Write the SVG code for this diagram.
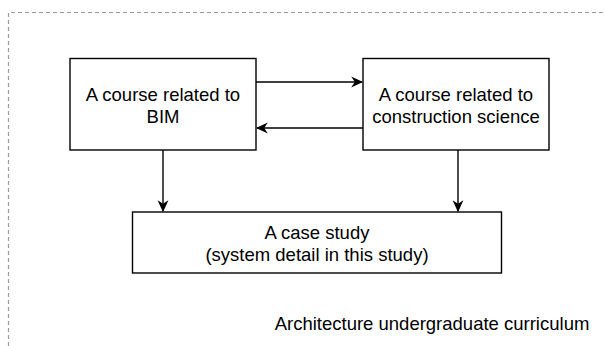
<svg xmlns="http://www.w3.org/2000/svg" width="604" height="346" viewBox="0 0 604 346">
<defs>
<style>
.box{fill:#fff;stroke:#000;stroke-width:1.4}
.lbl{font-family:"Liberation Sans",Arial,sans-serif;font-size:18.5px;fill:#000;text-anchor:middle}
.edge{fill:none;stroke:#000;stroke-width:1.4}
.frame{fill:none;stroke:#999;stroke-width:1.2;stroke-dasharray:4 3}
</style>
<marker id="arr" viewBox="0 0 10 10" refX="9" refY="5" markerWidth="12" markerHeight="12" markerUnits="userSpaceOnUse" orient="auto">
<path d="M0,0.5 L10,5 L0,9.5 L3,5 Z" fill="#000"/>
</marker>
</defs>
<rect fill="#fff" x="0" y="0" width="604" height="346"/>
<g id="frame">
<path class="frame" d="M8.5,346 L8.5,12.5 L604,12.5"/>
<text class="lbl" x="432" y="329.5">Architecture undergraduate curriculum</text>
</g>
<g id="connectors">
<path class="edge" d="M256,82 L362,82" marker-end="url(#arr)"/>
<path class="edge" d="M363,128 L257,128" marker-end="url(#arr)"/>
<path class="edge" d="M163,150 L163,211" marker-end="url(#arr)"/>
<path class="edge" d="M458,150 L458,211" marker-end="url(#arr)"/>
</g>
<g id="bim">
<rect class="box" x="70" y="58.5" width="186" height="91.5"/>
<text class="lbl" x="163" y="100.5">A course related to</text>
<text class="lbl" x="163" y="122.5">BIM</text>
</g>
<g id="construction">
<rect class="box" x="363" y="58.5" width="186" height="91.5"/>
<text class="lbl" x="456" y="100.5">A course related to</text>
<text class="lbl" x="456" y="122.5">construction science</text>
</g>
<g id="case">
<rect class="box" x="132.5" y="212" width="369" height="61"/>
<text class="lbl" x="317" y="239">A case study</text>
<text class="lbl" x="317" y="261">(system detail in this study)</text>
</g>
</svg>
